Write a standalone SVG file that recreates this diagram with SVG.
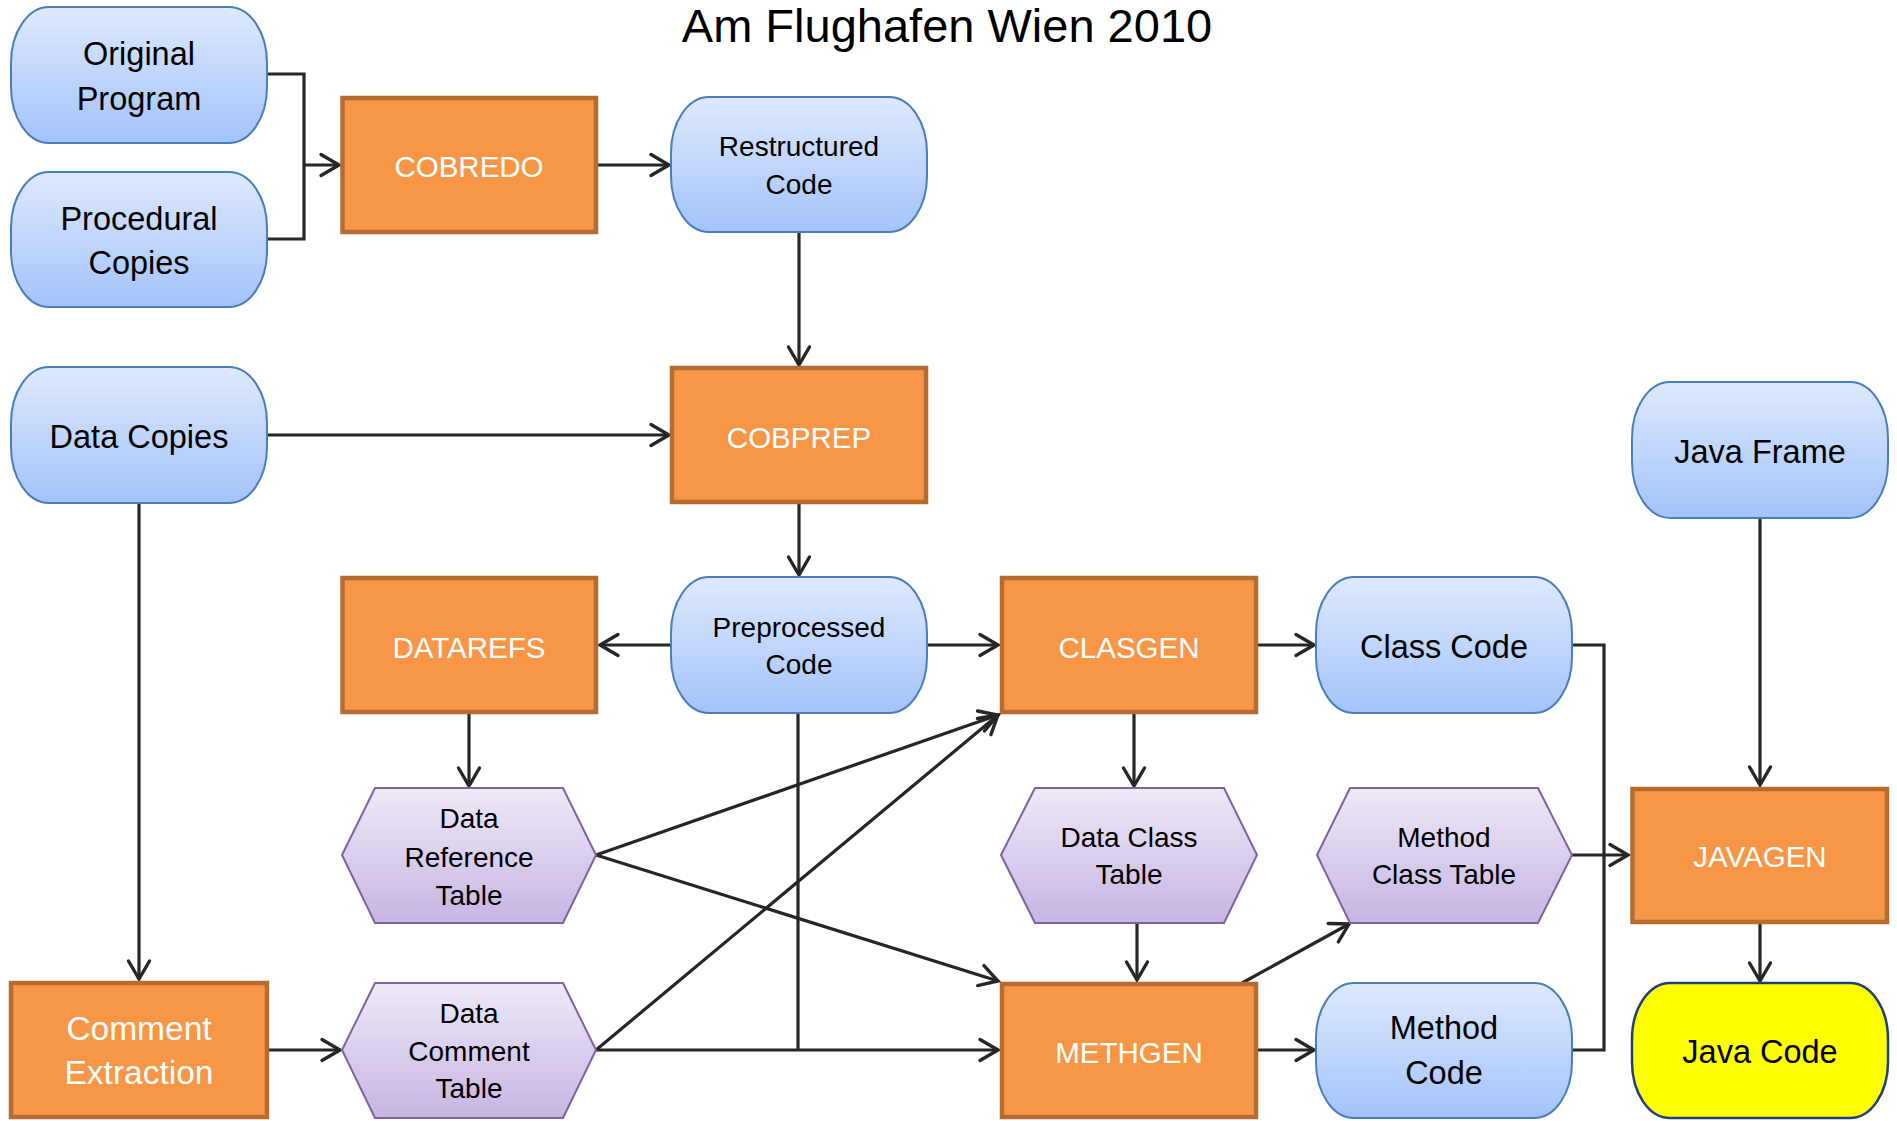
<svg xmlns="http://www.w3.org/2000/svg" width="1897" height="1121" viewBox="0 0 1897 1121">
  <defs>
    <linearGradient id="gBlue" x1="0" y1="0" x2="0" y2="1">
      <stop offset="0" stop-color="#DEE9FD"/>
      <stop offset="1" stop-color="#A3C3FA"/>
    </linearGradient>
    <linearGradient id="gPurple" x1="0" y1="0" x2="0" y2="1">
      <stop offset="0" stop-color="#EEE9F7"/>
      <stop offset="1" stop-color="#C6B5E3"/>
    </linearGradient>
    <marker id="arrow" markerUnits="userSpaceOnUse" markerWidth="40" markerHeight="40" refX="0" refY="0" orient="auto" viewBox="-20 -20 40 40" overflow="visible">
      <path d="M-18,-10.5 L0,0 L-18,10.5" fill="none" stroke="#262626" stroke-width="3.4" stroke-linecap="round" stroke-linejoin="miter"/>
    </marker>
  </defs>
  <style>
    text { font-family: "Liberation Sans", Arial, sans-serif; text-anchor: middle; fill: #000; }
    .title { font-size: 47px; }
    .big { font-size: 32.5px; }
    .small { font-size: 28px; }
    .proc text { fill: #FFFFFF; font-size: 29.5px; }
    .proc text.two { font-size: 33.5px; }
    .data { fill: url(#gBlue); stroke: #4A7EBB; stroke-width: 2; }
    .table { fill: url(#gPurple); stroke: #7F62A0; stroke-width: 2; }
    .box { fill: #F79646; stroke: #B66B30; stroke-width: 4.5; }
    .out { fill: #FFFF00; stroke: #1F3F7A; stroke-width: 2.5; }
    .conn path, .conn line { fill: none; stroke: #262626; stroke-width: 3.2; }
    .conn .a { marker-end: url(#arrow); }
  </style>

  <rect width="1897" height="1121" fill="#FFFFFF"/>

  <text class="title" x="947" y="42">Am Flughafen Wien 2010</text>

  <!-- connectors -->
  <g id="connectors" class="conn">
    <path d="M267,74 H304 V239 H267"/>
    <line class="a" x1="304" y1="165" x2="339" y2="165"/>
    <line class="a" x1="598" y1="165" x2="669" y2="165"/>
    <line class="a" x1="799" y1="232" x2="799" y2="365"/>
    <line class="a" x1="267" y1="435" x2="669" y2="435"/>
    <line class="a" x1="799" y1="504" x2="799" y2="575"/>
    <line class="a" x1="671" y1="645" x2="600" y2="645"/>
    <line class="a" x1="927" y1="645" x2="998" y2="645"/>
    <line class="a" x1="1258" y1="645" x2="1314" y2="645"/>
    <line class="a" x1="139" y1="503" x2="139" y2="979"/>
    <line class="a" x1="469" y1="714" x2="469" y2="786"/>
    <line class="a" x1="1134" y1="714" x2="1134" y2="786"/>
    <line class="a" x1="596" y1="855" x2="998" y2="715"/>
    <line class="a" x1="596" y1="855" x2="998" y2="981"/>
    <line class="a" x1="596" y1="1050" x2="998" y2="715"/>
    <line class="a" x1="596" y1="1050" x2="998" y2="1050"/>
    <path d="M798,713 V1050"/>
    <line class="a" x1="269" y1="1050" x2="340" y2="1050"/>
    <line class="a" x1="1137" y1="923" x2="1137" y2="980"/>
    <line class="a" x1="1242" y1="983" x2="1349" y2="924"/>
    <line class="a" x1="1258" y1="1050" x2="1314" y2="1050"/>
    <line class="a" x1="1760" y1="518" x2="1760" y2="785"/>
    <line class="a" x1="1760" y1="924" x2="1760" y2="981"/>
    <line class="a" x1="1572" y1="855" x2="1628" y2="855"/>
    <path d="M1572,645 H1604 V1050 H1572"/>
  </g>

  <!-- data stores (rounded) -->
  <g id="original-program">
    <rect class="data" x="11" y="7" width="256" height="136" rx="38" ry="56"/>
    <text class="big" x="139" y="65">Original</text>
    <text class="big" x="139" y="110">Program</text>
  </g>
  <g id="procedural-copies">
    <rect class="data" x="11" y="172" width="256" height="135" rx="38" ry="56"/>
    <text class="big" x="139" y="230">Procedural</text>
    <text class="big" x="139" y="274">Copies</text>
  </g>
  <g id="data-copies">
    <rect class="data" x="11" y="367" width="256" height="136" rx="38" ry="56"/>
    <text class="big" x="139" y="448">Data Copies</text>
  </g>
  <g id="restructured-code">
    <rect class="data" x="671" y="97" width="256" height="135" rx="38" ry="56"/>
    <text class="small" x="799" y="156">Restructured</text>
    <text class="small" x="799" y="194">Code</text>
  </g>
  <g id="preprocessed-code">
    <rect class="data" x="671" y="577" width="256" height="136" rx="38" ry="56"/>
    <text class="small" x="799" y="637">Preprocessed</text>
    <text class="small" x="799" y="674">Code</text>
  </g>
  <g id="class-code">
    <rect class="data" x="1316" y="577" width="256" height="136" rx="38" ry="56"/>
    <text class="big" x="1444" y="658">Class Code</text>
  </g>
  <g id="java-frame">
    <rect class="data" x="1632" y="382" width="256" height="136" rx="38" ry="56"/>
    <text class="big" x="1760" y="463">Java Frame</text>
  </g>
  <g id="method-code">
    <rect class="data" x="1316" y="983" width="256" height="135" rx="38" ry="56"/>
    <text class="big" x="1444" y="1039">Method</text>
    <text class="big" x="1444" y="1084">Code</text>
  </g>
  <g id="java-code">
    <rect class="out" x="1632" y="983" width="256" height="135" rx="38" ry="56"/>
    <text class="big" x="1760" y="1063">Java Code</text>
  </g>

  <!-- processes -->
  <g id="cobredo" class="proc">
    <rect class="box" x="342.5" y="98" width="253.5" height="134"/>
    <text x="469" y="177">COBREDO</text>
  </g>
  <g id="cobprep" class="proc">
    <rect class="box" x="672" y="368" width="254" height="134"/>
    <text x="799" y="448">COBPREP</text>
  </g>
  <g id="datarefs" class="proc">
    <rect class="box" x="342.5" y="578" width="253.5" height="134"/>
    <text x="469" y="658">DATAREFS</text>
  </g>
  <g id="clasgen" class="proc">
    <rect class="box" x="1002" y="578" width="254" height="134"/>
    <text x="1129" y="658">CLASGEN</text>
  </g>
  <g id="comment-extraction" class="proc">
    <rect class="box" x="11" y="983" width="256" height="134"/>
    <text class="two" x="139" y="1040">Comment</text>
    <text class="two" x="139" y="1084">Extraction</text>
  </g>
  <g id="methgen" class="proc">
    <rect class="box" x="1002" y="984" width="254" height="133"/>
    <text x="1129" y="1063">METHGEN</text>
  </g>
  <g id="javagen" class="proc">
    <rect class="box" x="1632.5" y="789" width="254.5" height="133"/>
    <text x="1760" y="867">JAVAGEN</text>
  </g>

  <!-- tables (hexagons) -->
  <g id="data-reference-table">
    <polygon class="table" points="342,855 375,788 563,788 596,855 563,923 375,923"/>
    <text class="small" x="469" y="828">Data</text>
    <text class="small" x="469" y="867">Reference</text>
    <text class="small" x="469" y="905">Table</text>
  </g>
  <g id="data-comment-table">
    <polygon class="table" points="342,1050 375,983 563,983 596,1050 563,1118 375,1118"/>
    <text class="small" x="469" y="1023">Data</text>
    <text class="small" x="469" y="1061">Comment</text>
    <text class="small" x="469" y="1098">Table</text>
  </g>
  <g id="data-class-table">
    <polygon class="table" points="1001,855 1035,788 1224,788 1257,855 1224,923 1035,923"/>
    <text class="small" x="1129" y="847">Data Class</text>
    <text class="small" x="1129" y="884">Table</text>
  </g>
  <g id="method-class-table">
    <polygon class="table" points="1317,855 1350,788 1538,788 1572,855 1538,923 1350,923"/>
    <text class="small" x="1444" y="847">Method</text>
    <text class="small" x="1444" y="884">Class Table</text>
  </g>
</svg>
